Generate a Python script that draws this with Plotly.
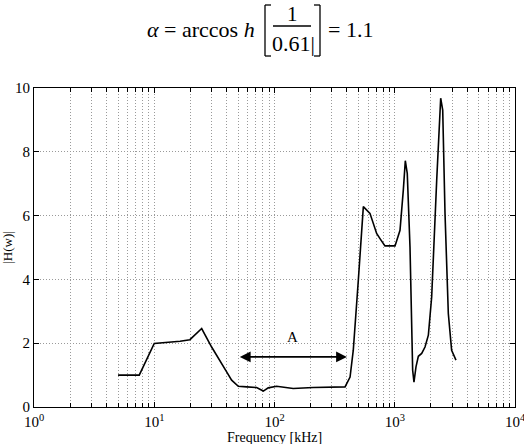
import numpy as np
import plotly.graph_objects as go

# ---- data ----
freq_khz = [5.0, 7.5, 10, 13.5, 16.4, 19.8, 24.8, 30, 34, 40, 44, 50, 58.8, 71, 80.7, 88.7,
            104, 143, 210, 386, 425, 452, 498, 548, 622, 663, 707, 754, 829, 1005, 1106,
            1178, 1224, 1271, 1339, 1409, 1445, 1502, 1571, 1675, 1785, 1903, 2028, 2233,
            2410, 2505, 2618, 2789, 2972, 3230]
h_mag = [1.0, 1.0, 1.99, 2.02, 2.06, 2.11, 2.46, 1.88, 1.52, 1.1, 0.84, 0.65, 0.63, 0.61, 0.5, 0.6,
         0.65, 0.58, 0.61, 0.63, 0.94, 1.78, 3.98, 6.28, 6.07, 5.75, 5.44, 5.28, 5.05, 5.05, 5.54,
         6.8, 7.72, 7.32, 5.02, 1.15, 0.78, 1.26, 1.59, 1.68, 1.88, 2.25, 3.45, 7.11,
         9.68, 9.31, 6.07, 2.93, 1.78, 1.47]

x_tickvals = [1, 10, 100, 1000, 10000]
x_ticktext = ["10<sup>0</sup>", "10<sup>1</sup>", "10<sup>2</sup>", "10<sup>3</sup>", "10<sup>4</sup>"]
y_tickvals = [0, 2, 4, 6, 8, 10]
x_title = "Frequency [kHz]"
y_title = "|H(w)|"

arrow_start_khz = 50
arrow_end_khz = 400
arrow_level = 1.57
label_A = "A"
label_A_level = 2.2

FONT = "Liberation Serif"
W, H = 524, 444
ML, MR, MT, MB = 34, 9, 88, 37
PW, PH = W - ML - MR, H - MT - MB


def px(x):
    return (x - ML) / PW


def py(y):
    return (H - MB - y) / PH


fig = go.Figure()
fig.add_trace(go.Scatter(x=freq_khz, y=h_mag, mode="lines",
                         line=dict(color="black", width=1.6), showlegend=False))

GC = "#9a9a9a"
GD = "1px,2px"
grid = dict(showgrid=True, gridcolor=GC, gridwidth=1, griddash=GD)

fig.update_xaxes(type="log", range=[0, 4], tickmode="array", tickvals=x_tickvals,
                 ticktext=x_ticktext, ticks="inside", ticklen=5, tickcolor="black",
                 showline=True, linecolor="black", linewidth=1.2, mirror="ticks",
                 ticklabeloverflow="allow", ticklabelstandoff=1, automargin=False,
                 tickfont=dict(family=FONT, size=15, color="black"),
                 minor=dict(dtick="D1", ticks="inside", ticklen=4, tickcolor="black",
                            showgrid=True, gridcolor=GC, gridwidth=1, griddash=GD),
                 zeroline=False, **grid)
fig.update_yaxes(range=[0, 10], tickmode="array", tickvals=y_tickvals, ticks="inside",
                 ticklen=5, tickcolor="black", showline=True, linecolor="black", linewidth=1.2,
                 mirror="ticks", ticklabeloverflow="allow", automargin=False,
                 tickfont=dict(family=FONT, size=15, color="black"),
                 title=dict(text=y_title, font=dict(family=FONT, size=13, color="black"),
                            standoff=6),
                 zeroline=False, **grid)

# x axis title (placed low, as in the reference)
fig.add_annotation(x=0.5, y=py(437), xref="paper", yref="paper", xanchor="center",
                   yanchor="middle", text=x_title, showarrow=False,
                   font=dict(family=FONT, size=14, color="black"))

# arrow A
fig.add_annotation(x=np.log10(arrow_end_khz), y=arrow_level, ax=np.log10(arrow_start_khz),
                   ay=arrow_level, xref="x", yref="y", axref="x", ayref="y", text="",
                   showarrow=True, arrowhead=2, arrowside="end+start", arrowsize=1.2,
                   arrowwidth=1.8, arrowcolor="black")
fig.add_annotation(x=np.log10(np.sqrt(arrow_start_khz * arrow_end_khz)), y=label_A_level,
                   xref="x", yref="y", text=label_A, showarrow=False,
                   font=dict(family=FONT, size=15, color="black"))

# title equation
S = 3  # vertical shift (px)
tf = dict(family=FONT, size=22, color="black")
fig.add_annotation(x=px(257), y=py(27 + S), xref="paper", yref="paper", xanchor="right",
                   yanchor="middle", text="<i>α</i> = arccos <i>h</i>", showarrow=False, font=tf)
fig.add_annotation(x=px(292), y=py(11 + S), xref="paper", yref="paper", xanchor="center",
                   yanchor="middle", text="1", showarrow=False,
                   font=dict(family=FONT, size=21, color="black"))
fig.add_annotation(x=px(293), y=py(40 + S), xref="paper", yref="paper", xanchor="center",
                   yanchor="middle", text="0.61|", showarrow=False, font=tf)
fig.add_annotation(x=px(326), y=py(27 + S), xref="paper", yref="paper", xanchor="left",
                   yanchor="middle", text="= 1.1", showarrow=False, font=tf)
ln = dict(color="black", width=1.3)
for (x0, y0, x1, y1) in [(273, 23, 311, 23),
                         (265, 2, 265, 53), (265, 2, 271, 2), (265, 53, 271, 53),
                         (320, 2, 320, 53), (314, 2, 320, 2), (314, 53, 320, 53)]:
    fig.add_shape(type="line", xref="paper", yref="paper", x0=px(x0), y0=py(y0 + S),
                  x1=px(x1), y1=py(y1 + S), line=ln)

fig.update_layout(width=W, height=H, margin=dict(l=ML, r=MR, t=MT, b=MB, autoexpand=False),
                  plot_bgcolor="white", paper_bgcolor="white", showlegend=False)
fig.write_html("out.html")
